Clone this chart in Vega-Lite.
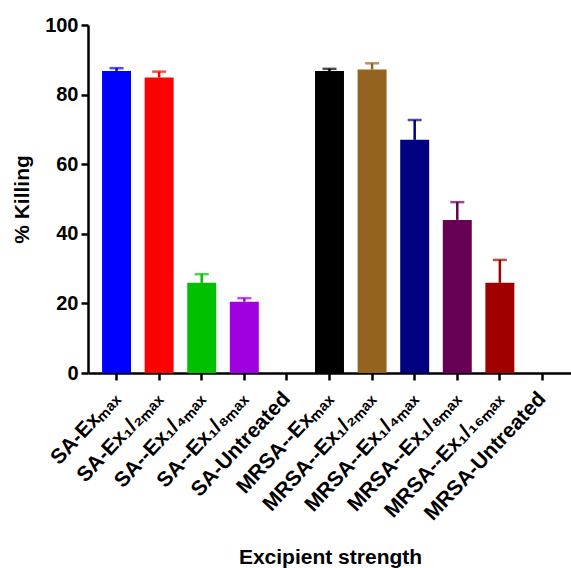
{
  "$schema": "https://vega.github.io/schema/vega-lite/v6.json",
  "autosize": "none",
  "padding": {"left": 88, "top": 25, "right": 0, "bottom": 195},
  "width": 483,
  "height": 348,
  "background": "white",
  "config": {
    "view": {"stroke": null},
    "font": "Liberation Sans",
    "axis": {
      "domainColor": "black", "domainWidth": 2.5, "tickColor": "black", "tickWidth": 2.5, "tickSize": 7,
      "labelColor": "black", "titleColor": "black", "labelFont": "Liberation Sans", "titleFont": "Liberation Sans",
      "labelFontWeight": "bold", "titleFontWeight": "bold", "grid": false
    }
  },
  "data": {
    "values": [
      {"group": "SA-Exₘₐₓ", "killing": 86.8, "upper": 87.6},
      {"group": "SA-Ex₁/₂ₘₐₓ", "killing": 84.9, "upper": 86.6},
      {"group": "SA--Ex₁/₄ₘₐₓ", "killing": 25.9, "upper": 28.4},
      {"group": "SA--Ex₁/₈ₘₐₓ", "killing": 20.5, "upper": 21.5},
      {"group": "SA-Untreated", "killing": 0, "upper": null},
      {"group": "MRSA--Exₘₐₓ", "killing": 86.8, "upper": 87.4},
      {"group": "MRSA--Ex₁/₂ₘₐₓ", "killing": 87.2, "upper": 89.0},
      {"group": "MRSA--Ex₁/₄ₘₐₓ", "killing": 67.0, "upper": 72.7},
      {"group": "MRSA--Ex₁/₈ₘₐₓ", "killing": 44.0, "upper": 49.1},
      {"group": "MRSA--Ex₁/₁₆ₘₐₓ", "killing": 25.9, "upper": 32.5},
      {"group": "MRSA-Untreated", "killing": 0, "upper": null}
    ]
  },
  "encoding": {
    "x": {
      "field": "group", "type": "nominal", "sort": null,
      "scale": {"paddingInner": 0.32, "paddingOuter": 0.33},
      "axis": {
        "title": "Excipient strength", "labelAngle": -47, "labelAlign": "right", "labelBaseline": "middle",
        "labelFontSize": 21, "labelPadding": 15, "titleFontSize": 21, "titleY": 184, "titleBaseline": "middle", "titleX": 242
      }
    },
    "color": {
      "field": "group", "type": "nominal", "sort": null, "legend": null,
      "scale": {
        "domain": ["SA-Exₘₐₓ", "SA-Ex₁/₂ₘₐₓ", "SA--Ex₁/₄ₘₐₓ", "SA--Ex₁/₈ₘₐₓ", "SA-Untreated", "MRSA--Exₘₐₓ", "MRSA--Ex₁/₂ₘₐₓ", "MRSA--Ex₁/₄ₘₐₓ", "MRSA--Ex₁/₈ₘₐₓ", "MRSA--Ex₁/₁₆ₘₐₓ", "MRSA-Untreated"],
        "range": ["#0000FF", "#FF0000", "#00C000", "#A000E0", "#888888", "#000000", "#956320", "#000080", "#660055", "#A00000", "#888888"]
      }
    }
  },
  "layer": [
    {
      "mark": {"type": "bar"},
      "encoding": {
        "y": {
          "field": "killing", "type": "quantitative",
          "scale": {"domain": [0, 100], "nice": false},
          "axis": {"title": "% Killing", "values": [0, 20, 40, 60, 80, 100], "labelFontSize": 20, "labelPadding": 3, "titleFontSize": 21, "titleX": -66, "titleY": 174, "titleBaseline": "middle"}
        }
      }
    },
    {
      "transform": [{"filter": "datum.upper != null"}],
      "mark": {"type": "rule", "strokeWidth": 2.5},
      "encoding": {
        "y": {"field": "killing", "type": "quantitative"},
        "y2": {"field": "upper"}
      }
    },
    {
      "transform": [{"filter": "datum.upper != null"}],
      "mark": {"type": "tick", "thickness": 2.5, "size": 14},
      "encoding": {
        "y": {"field": "upper", "type": "quantitative"}
      }
    }
  ]
}
